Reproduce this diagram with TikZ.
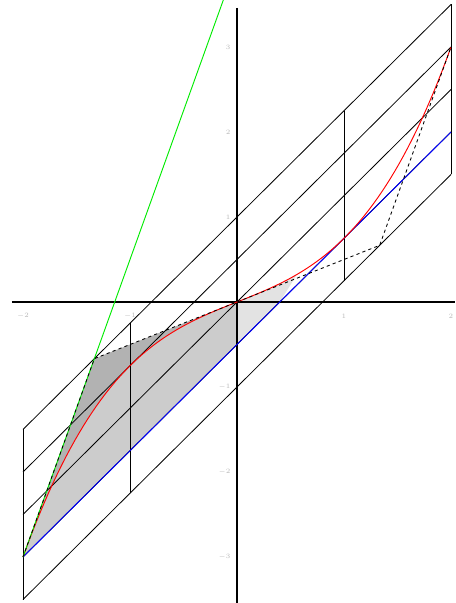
\documentclass[tikz,border=0pt]{standalone}
\definecolor{darkfill}{gray}{0.70}
\definecolor{midfill}{gray}{0.80}
\definecolor{lightfill}{gray}{0.89}
\definecolor{tanred}{rgb}{1,0,0}
\definecolor{tangreen}{rgb}{0,0.92,0}
\definecolor{tanblue}{rgb}{0,0,1}
\definecolor{labelgray}{gray}{0.72}
\tikzset{
  gridline/.style={black, line width=0.6pt},
  axisline/.style={black, line width=0.9pt},
  ticklabel/.style={text=labelgray, font=\fontsize{5.5}{6.5}\selectfont, inner sep=0pt},
  curvered/.style={tanred, line width=0.7pt},
  curvegreen/.style={tangreen, line width=0.7pt},
  curveblue/.style={tanblue, line width=0.7pt},
  envelope/.style={black, line width=0.65pt, dash pattern=on 2.4pt off 2.4pt}
}
\begin{document}
\begin{tikzpicture}[x=80.25pt,y=63.75pt]
\useasboundingbox (-2.2150,-3.5412) rectangle (2.0374,3.5529);
\clip (-2.2150,-3.5412) rectangle (2.0374,3.5529);
% fills
\fill[darkfill] (-2,-3) -- (-1.3333,-0.6667) -- (0,0) -- plot[domain=0:-2,samples=60] (\x,{0.25*\x*\x*\x+0.5*\x}) -- cycle;
\fill[midfill] plot[domain=-2:0,samples=60] (\x,{0.25*\x*\x*\x+0.5*\x}) -- (0,-0.5) -- cycle;
\fill[lightfill] (0,-0.5) -- (0.4,0) -- plot[domain=0.56:0,samples=30] (\x,{0.25*\x*\x*\x+0.5*\x}) -- cycle;
% sheared grid
\foreach \c in {-1,-0.5,0,0.5,1}
  \draw[gridline] (-2,{-2.5+\c}) -- (2,{2.5+\c});
\foreach \k in {-2,-1,1,2}
  \draw[gridline] (\k,{1.25*\k-1}) -- (\k,{1.25*\k+1});
% axes
\draw[axisline] (-2.103,0) -- (2.0374,0);
\draw[axisline] (0,3.46) -- (0,-3.5412);
% tick labels
\foreach \k in {-2,-1,1,2}
  \node[ticklabel] at (\k,-0.165) {$\k$};
\foreach \k in {-3,-2,-1,1,2,3}
  \node[ticklabel, anchor=east] at (-0.06,\k) {$\k$};
% tangent at 1
\draw[curveblue] (-2,-3) -- (2,2);
% function
\draw[curvered] plot[domain=-2:2,samples=100] (\x,{0.25*\x*\x*\x+0.5*\x});
% tangent at -2
\draw[curvegreen] (-2,-3) -- (-0.1277,3.5529);
% envelope of tangents
\draw[envelope] (-2,-3) -- (-1.3333,-0.6667) -- (1.3333,0.6667) -- (2,3);
\end{tikzpicture}
\end{document}
